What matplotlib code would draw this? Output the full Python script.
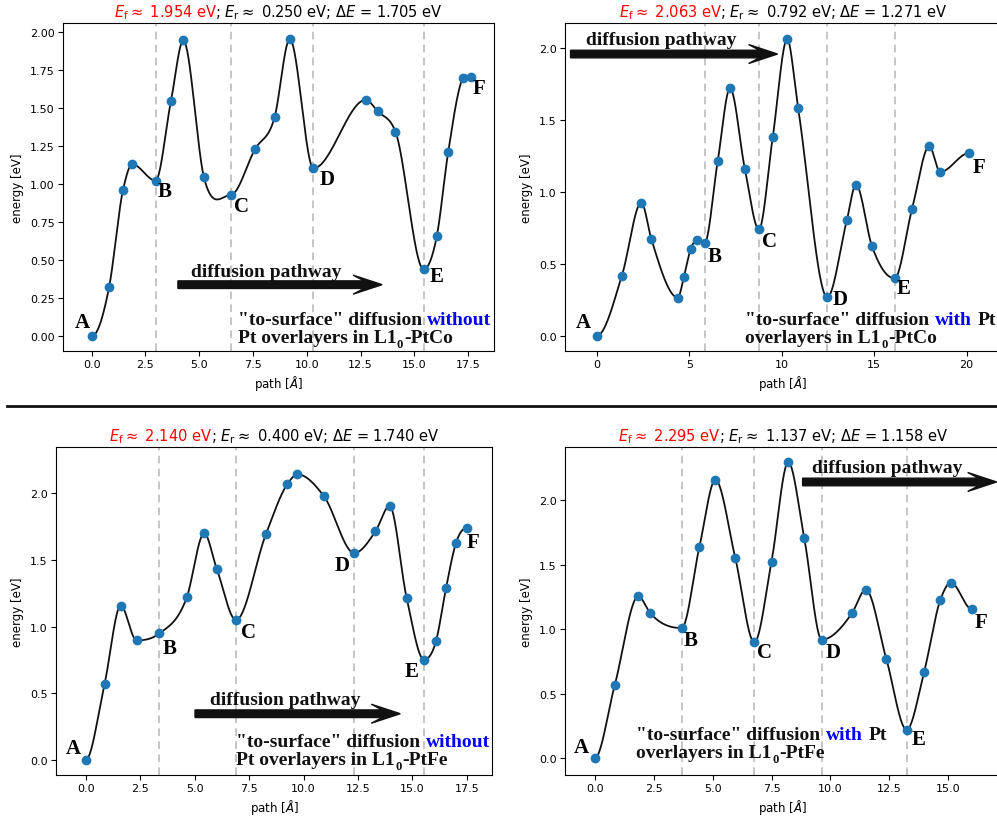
import numpy as np
import matplotlib
matplotlib.use('Agg')
import matplotlib.pyplot as plt
import matplotlib.transforms as mtransforms
from matplotlib.patches import Polygon
from matplotlib.lines import Line2D

plt.rcParams.update({'font.size': 8, 'font.family': 'DejaVu Sans'})
serif = 'Liberation Serif'

# ---- data: path [A] and energy [eV] of the NEB images ----
co_wo_x = [0, 0.81, 1.46, 1.89, 2.97, 3.69, 4.26, 5.22, 6.46, 7.60, 8.50, 9.21, 10.31,
           12.74, 13.29, 14.12, 15.43, 16.04, 16.57, 17.25, 17.62]
co_wo_e = [0, 0.322, 0.963, 1.132, 1.024, 1.55, 1.945, 1.046, 0.930, 1.232, 1.439, 1.954, 1.105,
           1.555, 1.480, 1.346, 0.441, 0.658, 1.211, 1.697, 1.705]

co_w_x = [0, 1.35, 2.40, 2.94, 4.37, 4.71, 5.07, 5.43, 5.82, 6.53, 7.20, 8.00, 8.76, 9.51,
          10.29, 10.88, 12.46, 13.52, 14.01, 14.87, 16.10, 17.04, 17.98, 18.57, 20.13]
co_w_e = [0, 0.418, 0.926, 0.673, 0.265, 0.411, 0.603, 0.666, 0.643, 1.213, 1.722, 1.160, 0.740, 1.383,
          2.063, 1.585, 0.267, 0.805, 1.051, 0.626, 0.399, 0.879, 1.318, 1.139, 1.271]

fe_wo_x = [0, 0.87, 1.61, 2.34, 3.39, 4.64, 5.44, 6.02, 6.90, 8.27, 9.25, 9.72, 10.93,
           12.33, 13.30, 13.95, 14.73, 15.53, 16.08, 16.54, 17.00, 17.50]
fe_wo_e = [0, 0.572, 1.156, 0.896, 0.949, 1.218, 1.698, 1.431, 1.049, 1.690, 2.065, 2.140, 1.978,
           1.551, 1.713, 1.903, 1.216, 0.752, 0.891, 1.288, 1.628, 1.740]

fe_w_x = [0, 0.85, 1.85, 2.35, 3.69, 4.44, 5.12, 5.96, 6.77, 7.50, 8.21, 8.89, 9.63,
          10.91, 11.50, 12.37, 13.23, 13.97, 14.66, 15.11, 15.99]
fe_w_e = [0, 0.568, 1.256, 1.127, 1.010, 1.638, 2.158, 1.556, 0.899, 1.525, 2.295, 1.705, 0.920,
          1.124, 1.307, 0.770, 0.222, 0.667, 1.227, 1.362, 1.158]

# index of the labelled states A..F
co_wo_idx = [0, 4, 8, 12, 16, 20]
co_w_idx = [0, 8, 12, 16, 20, 24]
fe_wo_idx = [0, 4, 8, 13, 17, 21]
fe_w_idx = [0, 4, 8, 12, 16, 20]
state_names = ['A', 'B', 'C', 'D', 'E', 'F']

titles_f = ['1.954', '2.063', '2.140', '2.295']
titles_r = ['0.250', '0.792', '0.400', '1.137']
titles_d = ['1.705', '1.271', '1.740', '1.158']
systems = ['PtCo', 'PtCo', 'PtFe', 'PtFe']
with_pt = [False, True, False, True]


def hermite_curve(x, y, n=60):
    # cubic hermite, flat at extrema and end points
    x = np.asarray(x, float); y = np.asarray(y, float)
    h = np.diff(x); d = np.diff(y) / h
    m = np.zeros_like(y)
    for i in range(1, len(x) - 1):
        if d[i - 1] * d[i] > 0:
            m[i] = (d[i - 1] * h[i] + d[i] * h[i - 1]) / (h[i - 1] + h[i])
    xs, ys = [], []
    for i in range(len(h)):
        t = np.linspace(0, 1, n)
        h00 = 2*t**3 - 3*t**2 + 1; h10 = t**3 - 2*t**2 + t
        h01 = -2*t**3 + 3*t**2; h11 = t**3 - t**2
        xs.append(x[i] + t*h[i])
        ys.append(h00*y[i] + h10*h[i]*m[i] + h01*y[i+1] + h11*h[i]*m[i+1])
    return np.concatenate(xs), np.concatenate(ys)


fig = plt.figure(figsize=(9.97, 8.2), dpi=100)
W, H = 997., 820.
rend = fig.canvas.get_renderer()
ident = mtransforms.IdentityTransform()


def text_width(s, **kw):
    t = fig.text(0, 0, s, transform=ident, **kw)
    w = t.get_window_extent(rend).width
    t.remove()
    return w


def put_pieces(x, y, pieces, family=serif, weight='bold', size=14):
    # pieces: (text, color, size factor, dy px, space before)
    sp = text_width('n n', fontsize=size, family=family, weight=weight) - \
        text_width('nn', fontsize=size, family=family, weight=weight)
    cx = x
    for s, c, f, dy, gap in pieces:
        if gap:
            cx += sp
        t = fig.text(cx, y + dy, s, color=c, fontsize=size * f, family=family, weight=weight,
                     transform=ident, ha='left', va='baseline')
        cx += t.get_window_extent(rend).width + 0.6


def put_title(xc, y, red, black, size):
    full = text_width(red + black, fontsize=size)
    wb = text_width(black, fontsize=size)
    x0 = xc - full / 2
    fig.text(x0, y, red, color='red', fontsize=size, transform=ident, ha='left', va='baseline')
    fig.text(x0 + full - wb, y, black, color='black', fontsize=size, transform=ident,
             ha='left', va='baseline')


def draw_arrow(ax, x0, x1, yc):
    (px0, py), (px1, _) = ax.transData.transform([(x0, yc), (x1, yc)])
    s, hw, nb, hl = 3.8, 9.5, 18, 29
    verts = [(px0, py + s), (px1 - nb, py + s), (px1 - hl, py + hw), (px1, py),
             (px1 - hl, py - hw), (px1 - nb, py - s), (px0, py - s)]
    fig.add_artist(Polygon(verts, closed=True, color='#111111', transform=ident, clip_on=False))


panels = [
    dict(x=co_wo_x, e=co_wo_e, idx=co_wo_idx, rect=(63, 24, 494, 352), xlim=(-1.33, 18.7), ylim=(-0.096, 2.06),
         xt=np.arange(0, 18, 2.5), yt=np.arange(0, 2.01, 0.25), yfmt='%.2f',
         lab=[(-0.42, 0.094), (3.41, 0.958), (6.98, 0.855), (10.96, 1.035), (16.05, 0.40), (17.98, 1.63)],
         arr=(4.01, 13.5, 0.34), arrtxt=(4.6, 0.40), note=(6.79, 0.08, -0.04)),
    dict(x=co_w_x, e=co_w_e, idx=co_w_idx, rect=(565, 24, 999, 352), xlim=(-1.73, 21.75), ylim=(-0.107, 2.176),
         xt=np.arange(0, 21, 5), yt=np.arange(0, 2.01, 0.5), yfmt='%.1f',
         lab=[(-0.72, 0.093), (6.37, 0.557), (9.35, 0.661), (13.14, 0.255), (16.61, 0.329), (20.69, 1.172)],
         arr=(-1.43, 9.77, 1.96), arrtxt=(-0.61, 2.03), note=(8.03, 0.081, -0.046)),
    dict(x=fe_wo_x, e=fe_wo_e, idx=fe_wo_idx, rect=(56, 448, 492, 776), xlim=(-1.36, 18.65), ylim=(-0.112, 2.345),
         xt=np.arange(0, 18, 2.5), yt=np.arange(0, 2.01, 0.5), yfmt='%.1f',
         lab=[(-0.57, 0.087), (3.84, 0.841), (7.46, 0.961), (11.79, 1.461), (14.94, 0.667), (17.78, 1.633)],
         arr=(5.02, 14.44, 0.347), arrtxt=(5.71, 0.417), note=(6.92, 0.105, -0.032)),
    dict(x=fe_w_x, e=fe_w_e, idx=fe_w_idx, rect=(565, 448, 999, 776), xlim=(-1.26, 17.15), ylim=(-0.129, 2.413),
         xt=np.arange(0, 16, 2.5), yt=np.arange(0, 2.01, 0.5), yfmt='%.1f',
         lab=[(-0.58, 0.088), (4.08, 0.917), (7.22, 0.827), (10.12, 0.827), (13.73, 0.147), (16.37, 1.057)],
         arr=(8.82, 17.05, 2.142), arrtxt=(9.20, 2.220), note=(1.77, 0.152, 0.013)),
]

for k, p in enumerate(panels):
    l, t, r, b = p['rect']
    ax = fig.add_axes([l / W, 1 - b / H, (r - l) / W, (b - t) / H])
    ax.set_xlim(p['xlim']); ax.set_ylim(p['ylim'])
    ax.set_xticks(p['xt']); ax.set_yticks(p['yt'])
    ax.yaxis.set_major_formatter(matplotlib.ticker.FormatStrFormatter(p['yfmt']))
    ax.xaxis.set_major_formatter(matplotlib.ticker.FormatStrFormatter('%g' if k == 1 else '%.1f'))
    ax.tick_params(labelsize=8, pad=2.5)
    ax.set_xlabel('path [$Å$]', fontsize=8.5, labelpad=3)
    ax.set_ylabel('energy [eV]', fontsize=8.5, labelpad=4)

    for i in p['idx'][1:-1]:
        ax.axvline(p['x'][i], color='#b5b5b5', lw=1.1, ls=(0, (5, 3.5)), zorder=1)
    cx, cy = hermite_curve(p['x'], p['e'])
    ax.plot(cx, cy, color='#111111', lw=1.3, zorder=2)
    ax.plot(p['x'], p['e'], 'o', color='#1f77b4', ms=6, zorder=3)

    for name, (lx, ly) in zip(state_names, p['lab']):
        ax.text(lx, ly, name, ha='center', va='center', fontsize=15, fontweight='bold', family=serif)

    # title in two colours
    tx = (l + r) / 2 if k % 2 == 0 else (l + 436 / 2)
    put_title(tx, H - t + 7,
              r'$E_\mathrm{f} \approx$ ' + titles_f[k] + ' eV',
              '; ' + r'$E_\mathrm{r} \approx$ ' + titles_r[k] + ' eV; ' + r'$\Delta E$ = ' + titles_d[k] + ' eV',
              10.5)

    draw_arrow(ax, *p['arr'])
    ax.text(p['arrtxt'][0], p['arrtxt'][1], 'diffusion pathway', fontsize=14, fontweight='bold',
            family=serif, va='baseline', ha='left', color='#111111')

    nx, ny1, ny2 = p['note']
    x1, y1 = ax.transData.transform((nx, ny1))
    _, y2 = ax.transData.transform((nx, ny2))
    if with_pt[k]:
        line1 = [('"to-surface" diffusion', '#111111', 1, 0, False), ('with', 'blue', 1, 0, True),
                 ('Pt', '#111111', 1, 0, True)]
        line2 = [('overlayers in L1', '#111111', 1, 0, False), ('0', '#111111', 0.65, -5, False),
                 ('-' + systems[k], '#111111', 1, 0, False)]
    else:
        line1 = [('"to-surface" diffusion', '#111111', 1, 0, False), ('without', 'blue', 1, 0, True)]
        line2 = [('Pt overlayers in L1', '#111111', 1, 0, False), ('0', '#111111', 0.65, -5, False),
                 ('-' + systems[k], '#111111', 1, 0, False)]
    put_pieces(x1, y1, line1)
    put_pieces(x1, y2, line2)

# separator between the two alloy rows
fig.add_artist(Line2D([7 / W, 1.0], [1 - 406.5 / H, 1 - 406.5 / H], color='#111111', lw=2.0))

fig.savefig('out.png', dpi=100)
